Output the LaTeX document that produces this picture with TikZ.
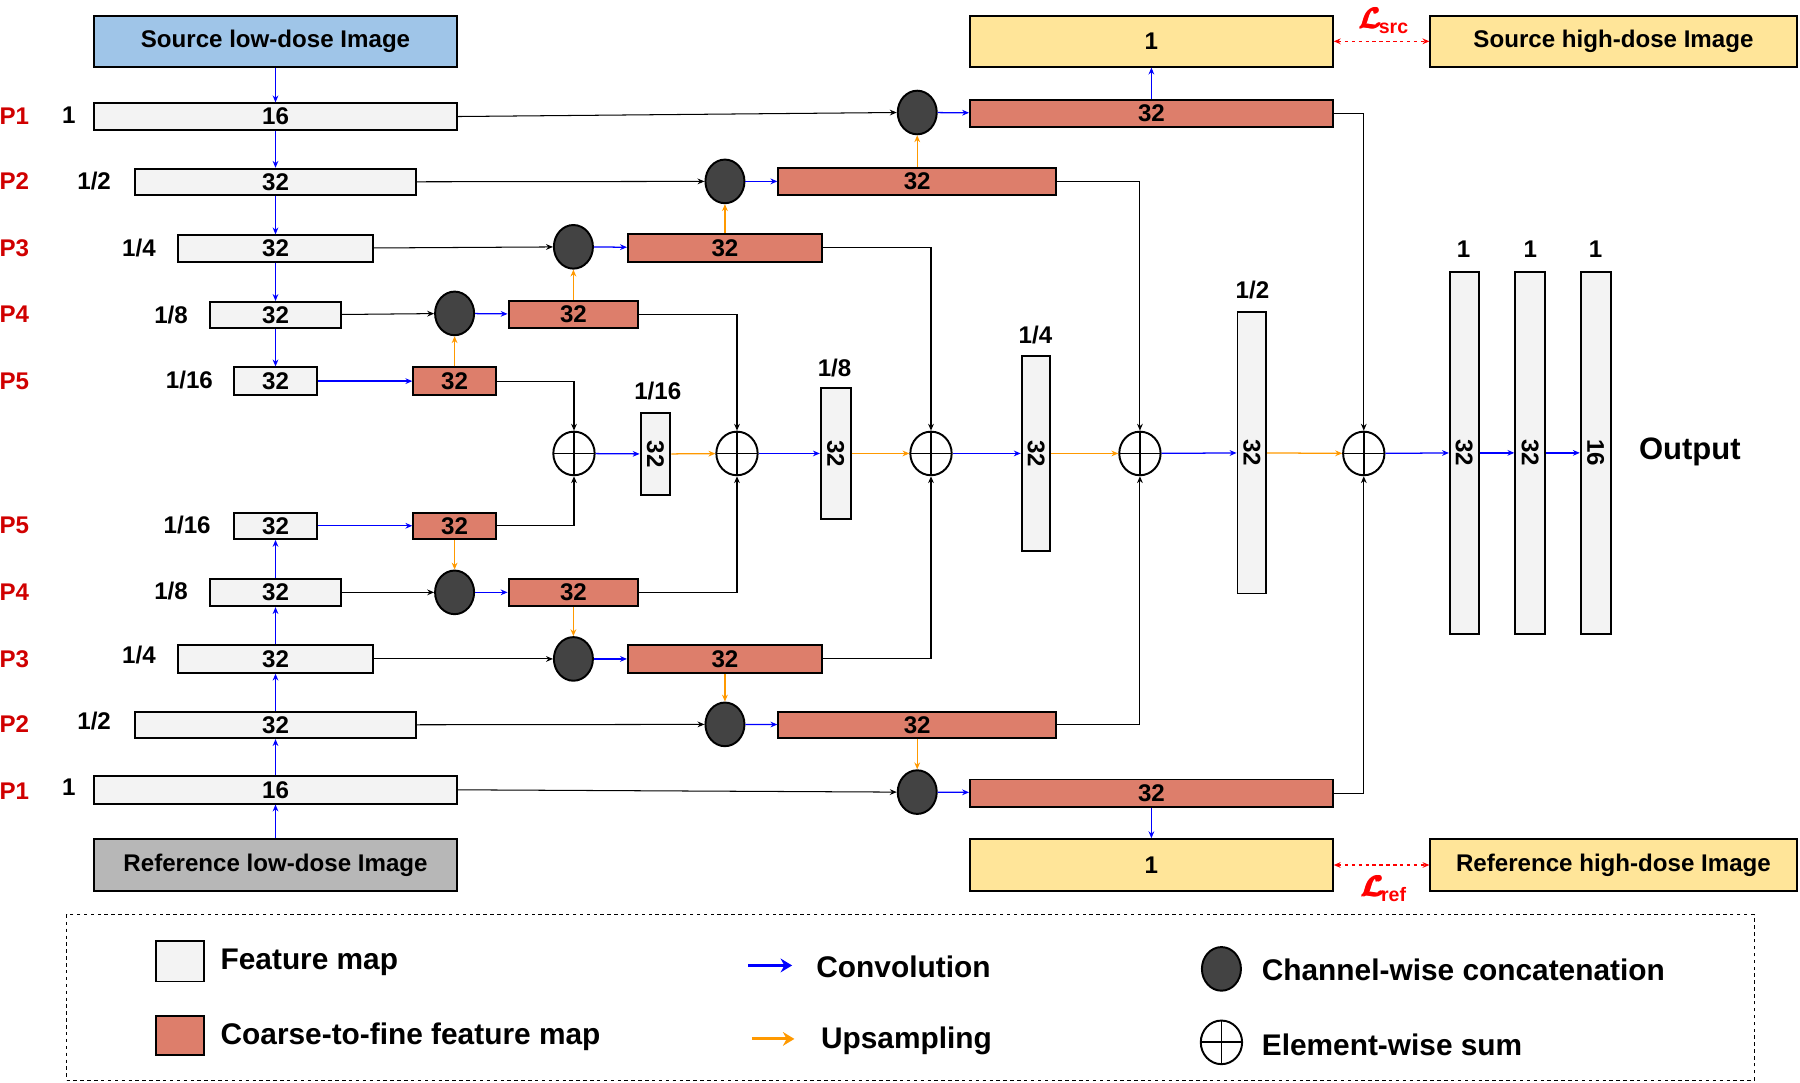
\documentclass[tikz,border=0pt]{standalone}
\usepackage{fontspec}
\setmainfont{Liberation Sans}
\usepackage{bm}
\usetikzlibrary{arrows.meta,shapes.geometric}
\definecolor{featc}{HTML}{F3F3F3}
\definecolor{coarsec}{HTML}{DD7E6B}
\definecolor{srcc}{HTML}{9FC5E8}
\definecolor{refc}{HTML}{B7B7B7}
\definecolor{yelc}{HTML}{FFE599}
\definecolor{catc}{HTML}{434343}
\definecolor{convc}{HTML}{0000FF}
\definecolor{upc}{HTML}{FF9900}
\definecolor{plab}{HTML}{D00000}
\newcommand{\numf}{\fontsize{21}{24}\selectfont\bfseries}
\newcommand{\legf}{\fontsize{26}{29}\selectfont\bfseries}
\newcommand{\myLL}{$\bm{\mathcal{L}}$}
\newcommand{\heavyL}{\rlap{\myLL}\rlap{\kern1.2pt\myLL}\rlap{\raisebox{1pt}{\myLL}}\kern1.2pt\raisebox{1pt}{\myLL}}
\newcommand{\lossL}[1]{\textcolor{red}{\fontsize{39}{39}\selectfont\heavyL\kern-3pt\raisebox{-4pt}{\fontsize{17}{17}\selectfont\bfseries #1}}}
\tikzset{
  nbox/.style={draw=black, line width=1.7pt, inner sep=0pt, font=\numf},
  feat/.style={nbox, fill=featc},
  coarse/.style={nbox, fill=coarsec},
  concat/.style={ellipse, draw=black, line width=1.7pt, fill=catc, minimum width=34pt, minimum height=38pt, inner sep=0pt},
  sumnode/.style={ellipse, draw=black, line width=1.7pt, fill=white, minimum width=36pt, minimum height=38pt, inner sep=0pt,
    path picture={\draw[line width=1.6pt] (path picture bounding box.north) -- (path picture bounding box.south) (path picture bounding box.west) -- (path picture bounding box.east);}},
  convar/.style={draw=convc, line width=1.1pt, -{Stealth[length=6pt,width=5pt]}},
  upar/.style={draw=upc, line width=1.1pt, -{Stealth[length=6pt,width=5pt]}},
  skipar/.style={draw=black, line width=0.9pt, -{Stealth[length=6pt,width=5pt]}},
  lossar/.style={draw=red, line width=1.1pt, dashed, {Stealth[length=6pt,width=5pt]}-{Stealth[length=6pt,width=5pt]}},
  plabel/.style={text=plab, font=\numf, inner sep=0pt},
  slabel/.style={font=\numf, inner sep=0pt},
  legtext/.style={font=\legf, inner sep=0pt, anchor=west}
}
\begin{document}
\begin{tikzpicture}[x=1pt, y=-1pt]
\useasboundingbox (0,0) rectangle (1568,943);

% ---------- top (source) encoder ----------
\node[nbox, fill=srcc, minimum width=316pt, minimum height=44pt] (src) at (240,36) {Source low-dose Image};
\node[feat, minimum width=316pt, minimum height=23pt] (fs1) at (240,101.5) {16};
\node[feat, minimum width=244pt, minimum height=23pt] (fs2) at (240,158.5) {32};
\node[feat, minimum width=170pt, minimum height=23pt] (fs3) at (240,216.5) {32};
\node[feat, minimum width=114pt, minimum height=23pt] (fs4) at (240,274.5) {32};
\node[feat, minimum width=72pt, minimum height=24pt] (fs5) at (240,332) {32};

\node[plabel] (ps1) at (12.5,101) {P1};
\node[plabel] (ps2) at (12.5,158) {P2};
\node[plabel] (ps3) at (12.5,216) {P3};
\node[plabel] (ps4) at (12.5,274) {P4};
\node[plabel] (ps5) at (12.5,332) {P5};
\node[slabel] (ss1) at (60,100) {1};
\node[slabel] (ss2) at (82,158) {1/2};
\node[slabel] (ss3) at (121,216) {1/4};
\node[slabel] (ss4) at (149,274) {1/8};
\node[slabel] (ss5) at (165,331) {1/16};

% ---------- top decoder ----------
\node[coarse, minimum width=72pt, minimum height=24pt] (cs5) at (396,332) {32};
\node[concat] (ks4) at (396,273) {};
\node[coarse, minimum width=113pt, minimum height=24pt] (cs4) at (499.5,274) {32};
\node[concat] (ks3) at (499.5,215) {};
\node[coarse, minimum width=169pt, minimum height=24pt] (cs3) at (631.5,216) {32};
\node[concat] (ks2) at (631.5,158) {};
\node[coarse, minimum width=242pt, minimum height=24pt] (cs2) at (799,158) {32};
\node[concat] (ks1) at (799,98) {};
\node[coarse, minimum width=316pt, minimum height=24pt] (cs1) at (1003,99) {32};
\node[nbox, fill=yelc, minimum width=316pt, minimum height=44pt] (ys) at (1003,36) {1};
\node[nbox, fill=yelc, minimum width=319pt, minimum height=44pt] (shd) at (1405.5,36) {Source high-dose Image};
\node[inner sep=0pt] (lsrc) at (1205,18) {\lossL{src}};

% ---------- bottom (reference) encoder ----------
\node[feat, minimum width=72pt, minimum height=23pt] (fr5) at (240,458) {32};
\node[feat, minimum width=114pt, minimum height=24pt] (fr4) at (240,516) {32};
\node[feat, minimum width=170pt, minimum height=24pt] (fr3) at (240,574) {32};
\node[feat, minimum width=244pt, minimum height=23pt] (fr2) at (240,631.5) {32};
\node[feat, minimum width=316pt, minimum height=24pt] (fr1) at (240,688) {16};
\node[nbox, fill=refc, minimum width=316pt, minimum height=45pt] (ref) at (240,753.5) {Reference low-dose Image};

\node[plabel] (pr5) at (12.5,458) {P5};
\node[plabel] (pr4) at (12.5,516) {P4};
\node[plabel] (pr3) at (12.5,574) {P3};
\node[plabel] (pr2) at (12.5,631) {P2};
\node[plabel] (pr1) at (12.5,689) {P1};
\node[slabel] (sr5) at (163,457) {1/16};
\node[slabel] (sr4) at (149,515) {1/8};
\node[slabel] (sr3) at (121,571) {1/4};
\node[slabel] (sr2) at (82,628) {1/2};
\node[slabel] (sr1) at (60,686) {1};

% ---------- bottom decoder ----------
\node[coarse, minimum width=72pt, minimum height=23pt] (cr5) at (396,458) {32};
\node[concat] (kr4) at (396,516) {};
\node[coarse, minimum width=113pt, minimum height=24pt] (cr4) at (499.5,516) {32};
\node[concat] (kr3) at (499.5,574) {};
\node[coarse, minimum width=169pt, minimum height=24pt] (cr3) at (631.5,574) {32};
\node[concat] (kr2) at (631.5,631) {};
\node[coarse, minimum width=242pt, minimum height=23pt] (cr2) at (799,631.5) {32};
\node[concat] (kr1) at (799,690) {};
\node[coarse, minimum width=316pt, minimum height=24pt] (cr1) at (1003,691) {32};
\node[nbox, fill=yelc, minimum width=316pt, minimum height=45pt] (yr) at (1003,753.5) {1};
\node[nbox, fill=yelc, minimum width=319pt, minimum height=45pt] (rhd) at (1405.5,753.5) {Reference high-dose Image};
\node[inner sep=0pt] (lref) at (1205,774) {\lossL{ref}};

% ---------- middle fusion ----------
\node[sumnode] (sm1) at (500,395) {};
\node[sumnode] (sm2) at (642,395) {};
\node[sumnode] (sm3) at (811,395) {};
\node[sumnode] (sm4) at (993,395) {};
\node[sumnode] (sm5) at (1188,395) {};
\node[feat, minimum width=26pt, minimum height=71pt] (v1) at (571,395.5) {\rotatebox{-90}{32}};
\node[feat, minimum width=26pt, minimum height=114pt] (v2) at (728,395) {\rotatebox{-90}{32}};
\node[feat, minimum width=25pt, minimum height=170pt] (v3) at (902.5,395) {\rotatebox{-90}{32}};
\node[feat, minimum width=25pt, minimum height=245pt] (v4) at (1090.5,394.5) {\rotatebox{-90}{32}};
\node[feat, minimum width=25pt, minimum height=315pt] (v5) at (1275.5,394.5) {\rotatebox{-90}{32}};
\node[feat, minimum width=26pt, minimum height=315pt] (v6) at (1333,394.5) {\rotatebox{-90}{32}};
\node[feat, minimum width=26pt, minimum height=315pt] (v7) at (1390,394.5) {\rotatebox{-90}{16}};
\node[slabel] (t1) at (573,341) {1/16};
\node[slabel] (t2) at (727,321) {1/8};
\node[slabel] (t3) at (902,292) {1/4};
\node[slabel] (t4) at (1091,253) {1/2};
\node[slabel] (t5) at (1275,217) {1};
\node[slabel] (t6) at (1333,217) {1};
\node[slabel] (t7) at (1390,217) {1};
\node[inner sep=0pt, font=\fontsize{27}{30}\selectfont\bfseries] (out) at (1472,394) {Output};

% ---------- connectors: encoder ----------
\draw[convar] (src) -- (fs1);
\draw[convar] (fs1) -- (fs2);
\draw[convar] (fs2) -- (fs3);
\draw[convar] (fs3) -- (fs4);
\draw[convar] (fs4) -- (fs5);
\draw[convar] (ref) -- (fr1);
\draw[convar] (fr1) -- (fr2);
\draw[convar] (fr2) -- (fr3);
\draw[convar] (fr3) -- (fr4);
\draw[convar] (fr4) -- (fr5);

% ---------- connectors: top decoder ----------
\draw[convar] (fs5) -- (cs5);
\draw[upar] (cs5) -- (ks4);
\draw[skipar] (fs4) -- (ks4);
\draw[convar] (ks4) -- (cs4);
\draw[upar] (cs4) -- (ks3);
\draw[skipar] (fs3) -- (ks3);
\draw[convar] (ks3) -- (cs3);
\draw[upar] (cs3) -- (ks2);
\draw[skipar] (fs2) -- (ks2);
\draw[convar] (ks2) -- (cs2);
\draw[upar] (cs2) -- (ks1);
\draw[skipar] (fs1.east) -- (ks1.west);
\draw[convar] (ks1) -- (cs1);
\draw[convar] (cs1) -- (ys);
\draw[lossar] (ys) -- (shd);

% ---------- connectors: bottom decoder ----------
\draw[convar] (fr5) -- (cr5);
\draw[upar] (cr5) -- (kr4);
\draw[skipar] (fr4) -- (kr4);
\draw[convar] (kr4) -- (cr4);
\draw[upar] (cr4) -- (kr3);
\draw[skipar] (fr3) -- (kr3);
\draw[convar] (kr3) -- (cr3);
\draw[upar] (cr3) -- (kr2);
\draw[skipar] (fr2) -- (kr2);
\draw[convar] (kr2) -- (cr2);
\draw[upar] (cr2) -- (kr1);
\draw[skipar] (fr1.east) -- (kr1.west);
\draw[convar] (kr1) -- (cr1);
\draw[convar] (cr1) -- (yr);
\draw[lossar] (yr) -- (rhd);

% ---------- connectors: to sums ----------
\draw[skipar] (cs5.east) -| (sm1.north);
\draw[skipar] (cs4.east) -| (sm2.north);
\draw[skipar] (cs3.east) -| (sm3.north);
\draw[skipar] (cs2.east) -| (sm4.north);
\draw[skipar] (cs1.east) -| (sm5.north);
\draw[skipar] (cr5.east) -| (sm1.south);
\draw[skipar] (cr4.east) -| (sm2.south);
\draw[skipar] (cr3.east) -| (sm3.south);
\draw[skipar] (cr2.east) -| (sm4.south);
\draw[skipar] (cr1.east) -| (sm5.south);

% ---------- middle row ----------
\draw[convar] (sm1) -- (v1);
\draw[upar] (v1) -- (sm2);
\draw[convar] (sm2) -- (v2);
\draw[upar] (v2) -- (sm3);
\draw[convar] (sm3) -- (v3);
\draw[upar] (v3) -- (sm4);
\draw[convar] (sm4) -- (v4);
\draw[upar] (v4) -- (sm5);
\draw[convar] (sm5) -- (v5);
\draw[convar] (v5) -- (v6);
\draw[convar] (v6) -- (v7);

% ---------- legend ----------
\node[draw=black, line width=0.9pt, dashed, minimum width=1470pt, minimum height=144pt, inner sep=0pt] (leg) at (793,869) {};
\node[feat, minimum width=42pt, minimum height=35pt] (lg1) at (157,837.5) {};
\node[legtext] (lt1) at (192,838) {Feature map};
\node[coarse, minimum width=42pt, minimum height=34pt] (lg2) at (157,902) {};
\node[legtext] (lt2) at (192,903) {Coarse-to-fine feature map};
\coordinate (la1) at (652,841);
\coordinate (lb1) at (690,841);
\draw[draw=convc, line width=2.5pt, -{Stealth[length=10pt,width=12pt]}] (la1) -- (lb1);
\node[legtext] (lt3) at (711,842) {Convolution};
\coordinate (la2) at (655,905);
\coordinate (lb2) at (692,905);
\draw[draw=upc, line width=2.5pt, -{Stealth[length=10pt,width=12pt]}] (la2) -- (lb2);
\node[legtext] (lt4) at (715,907) {Upsampling};
\node[concat] (lg3) at (1064,844) {};
\node[legtext] (lt5) at (1099,845) {Channel-wise concatenation};
\node[sumnode] (lg4) at (1064,908) {};
\node[legtext] (lt6) at (1099,910) {Element-wise sum};
\end{tikzpicture}
\end{document}
